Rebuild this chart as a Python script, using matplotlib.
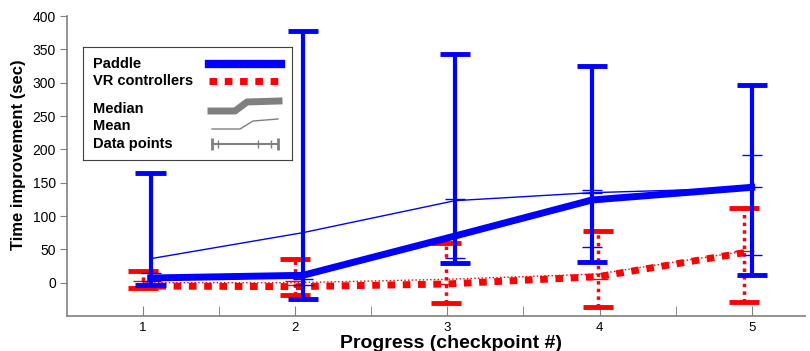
import matplotlib
matplotlib.use("Agg")
import matplotlib.pyplot as plt
import numpy as np

plt.rcParams['font.family'] = ['Liberation Sans', 'DejaVu Sans']

# checkpoints
checkpoints = [1, 2, 3, 4, 5]

# Paddle (blue) - x positions are slightly jittered in the original
paddle_x = [1.05, 2.05, 3.05, 3.95, 5.0]
paddle_median = [7, 11, 70, 124, 143]
paddle_mean = [36, 75, 123, 135, 142]
paddle_max = [164, 378, 343, 325, 297]
paddle_min = [-3, -24, 30, 31, 11]
paddle_points = [[14, 2], [-4, 5], [37, 126], [54, 135, 139], [42, 143, 192]]

# VR controllers (red)
vr_x = [1.0, 2.0, 2.99, 3.99, 4.95]
vr_median = [-5, -6, -2, 9, 45]
vr_mean = [0, 0, 5, 13, 47]
vr_max = [18, 36, 59, 77, 112]
vr_min = [-8, -18, -31, -37, -29]
vr_points = [[2], [2, -4], [-2], [6], [48]]

fig = plt.figure(figsize=(8.1, 3.51), dpi=100)
ax = fig.add_axes([67/810, 35/351, 738/810, 300/351])

cap = 0.1
tick = 0.065

# red group first, blue drawn over it
ax.plot(vr_x, vr_median, color='red', lw=5, dashes=(1.1, 1.1), zorder=2)
ax.plot(vr_x, vr_mean, color='red', lw=1, linestyle=':', zorder=2)
ax.vlines(vr_x, vr_min, vr_max, color='red', lw=2.5, linestyles=(0, (1, 1.2)), zorder=2)
ax.hlines(vr_max, np.array(vr_x) - cap, np.array(vr_x) + cap, color='red', lw=3.5, zorder=2)
ax.hlines(vr_min, np.array(vr_x) - cap, np.array(vr_x) + cap, color='red', lw=3.5, zorder=2)
for x, pts in zip(vr_x, vr_points):
    ax.hlines(pts, x - tick, x + tick, color='red', lw=1, zorder=2)

ax.plot(paddle_x, paddle_median, color='blue', lw=5, solid_joinstyle='miter', zorder=3)
ax.plot(paddle_x, paddle_mean, color='blue', lw=1, zorder=3)
ax.vlines(paddle_x, paddle_min, paddle_max, color='blue', lw=3, zorder=3)
ax.hlines(paddle_max, np.array(paddle_x) - cap, np.array(paddle_x) + cap, color='blue', lw=3.5, zorder=3)
ax.hlines(paddle_min, np.array(paddle_x) - cap, np.array(paddle_x) + cap, color='blue', lw=3.5, zorder=3)
for x, pts in zip(paddle_x, paddle_points):
    ax.hlines(pts, x - tick, x + tick, color='blue', lw=1, zorder=3)

ax.set_xlim(0.5, 5.35)
ax.set_ylim(-50, 400)
ax.set_yticks(np.arange(0, 401, 50))
ax.set_xticks(checkpoints)
ax.set_xticks([1.5, 2.5, 3.5, 4.5], minor=True)
ax.tick_params(axis='y', direction='out', length=5, color='gray', labelsize=10, pad=3)
ax.tick_params(axis='x', which='both', direction='in', length=7, color='gray', labelsize=9.5, pad=4)

for s in ['top', 'right']:
    ax.spines[s].set_visible(False)
for s in ['left', 'bottom']:
    ax.spines[s].set_color('gray')
    ax.spines[s].set_linewidth(1.2)

ax.set_xlabel('Progress (checkpoint #)', fontsize=14, fontweight='bold')
ax.set_ylabel('Time improvement (sec)', fontsize=12, fontweight='bold')
ax.xaxis.set_label_coords(0.52, -0.065)
ax.yaxis.set_label_coords(-0.056, 0.537)

# hand-made legend box
leg = fig.add_axes([83/810, (351-160)/351, 209/810, 113/351])
leg.set_xlim(0, 209)
leg.set_ylim(113, 0)
leg.set_xticks([])
leg.set_yticks([])
for s in leg.spines.values():
    s.set_color('#404040')
    s.set_linewidth(0.8)

fs = 10.5
leg.text(10, 17, 'Paddle', fontsize=fs, fontweight='bold', va='center')
leg.text(10, 34, 'VR controllers', fontsize=fs, fontweight='bold', va='center')
leg.text(10, 62, 'Median', fontsize=fs, fontweight='bold', va='center')
leg.text(10, 79, 'Mean', fontsize=fs, fontweight='bold', va='center')
leg.text(10, 97, 'Data points', fontsize=fs, fontweight='bold', va='center')

leg.plot([126, 198], [17, 17], color='blue', lw=6)
leg.plot([126, 198], [34, 34], color='red', lw=5, dashes=(1.1, 1.1))
leg.plot([128, 152, 164, 196], [64, 64, 55, 54], color='gray', lw=5)
leg.plot([129, 157, 170, 195], [82, 82, 74, 72], color='gray', lw=1)
leg.plot([129, 195], [97, 97], color='gray', lw=1.5)
leg.vlines([129, 195], 91, 103, color='gray', lw=2)
leg.vlines([135, 175, 188], 93, 101, color='gray', lw=1)

fig.savefig('out.png', dpi=100)
